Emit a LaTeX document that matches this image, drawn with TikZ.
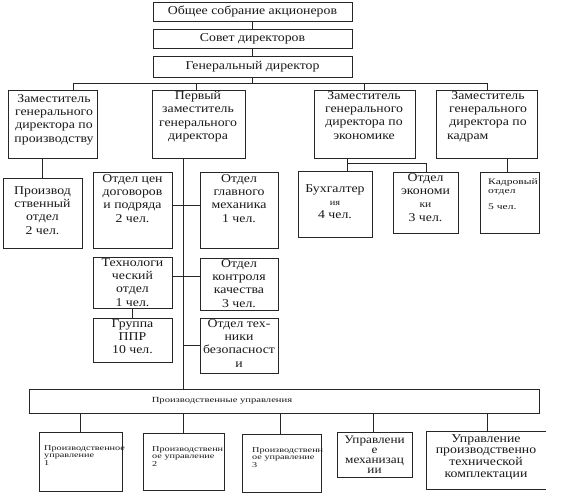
\documentclass[tikz,border=0pt]{standalone}
\usepackage{fontspec}
\setmainfont{Liberation Serif}[FakeStretch=1.15]
\newfontfamily\widefont{Liberation Serif}[FakeStretch=1.36]
\usetikzlibrary{fit}
\tikzset{
  bx/.style={draw=black!85, line width=0.6pt, inner sep=0pt, outer sep=0pt},
  nobx/.style={draw=none, inner sep=0pt, outer sep=0pt},
  ln/.style={draw=black!85, line width=0.6pt},
  tx/.style={inner sep=0pt, align=center, anchor=north, text=black!90, font=\fontsize{12}{13.4}\selectfont},
  sm/.style={inner sep=0pt, align=left, anchor=north west, text=black!90, font=\widefont\fontsize{7.5}{7.8}\selectfont},
}
\begin{document}
\begin{tikzpicture}[x=1pt,y=-1pt]
\useasboundingbox (0,0) rectangle (572,502);
\fill[white] (0,0) rectangle (572,502);

% top chain
\node[bx, fit={(153,2)(352,21)}] (osa) {};
\node[tx, anchor=center] (osat) at (osa.center) {Общее собрание акционеров};
\node[bx, fit={(153,29)(352,48)}] (sd) {};
\node[tx, anchor=center] (sdt) at (sd.center) {Совет директоров};
\node[bx, fit={(153,56)(352,77)}] (gd) {};
\node[tx, anchor=center] (gdt) at (gd.center) {Генеральный директор};

% deputies
\node[bx, fit={(8,90)(97,158)}] (zp) {};
\node[tx] (zpt) at (54,94) {Заместитель\\генерального\\директора по\\производству};
\node[bx, fit={(152,90)(245,158)}] (pz) {};
\node[tx] (pzt) at (198,91) {Первый\\заместитель\\генерального\\директора};
\node[bx, fit={(314,90)(415,158)}] (ze) {};
\node[tx] (zet) at (364,91) {Заместитель\\генерального\\директора по\\экономике};
\node[bx, fit={(436,90)(537,158)}] (zk) {};
\node[tx] (zkt) at (488,91) {Заместитель\\генерального\\директора по\\\makebox[82pt][l]{кадрам}};

% departments
\node[bx, fit={(3,178)(82,248)}] (prd) {};
\node[tx] (prdt) at (42.5,186) {Производ\\ственный\\отдел\\2 чел.};
\node[bx, fit={(93,172)(172,248)}] (oc) {};
\node[tx] (oct) at (132.5,174) {Отдел цен\\договоров\\и подряда\\2 чел.};
\node[bx, fit={(200,172)(278,248)}] (ogm) {};
\node[tx] (ogmt) at (239,174) {Отдел\\главного\\механика\\1 чел.};
\node[bx, fit={(93,257)(172,308)}] (to) {};
\node[tx] (tot) at (132.5,258) {Технологи\\ческий\\отдел\\1 чел.};
\node[bx, fit={(200,258)(278,310)}] (okk) {};
\node[tx] (okkt) at (239,259) {Отдел\\контроля\\качества\\3 чел.};
\node[bx, fit={(93,318)(172,362)}] (ppr) {};
\node[tx] (pprt) at (132.5,319) {Группа\\ППР\\10 чел.};
\node[bx, fit={(200,318)(278,373)}] (otb) {};
\node[tx] (otbt) at (239,319) {Отдел тех-\\ники\\безопасност\\и};

\node[bx, fit={(298,171)(372,237)}] (bu) {};
\node[tx] (but) at (335,184) {Бухгалтер\\{\fontsize{9}{10}\selectfont ия}\\4 чел.};
\node[bx, fit={(393,172)(458,233)}] (oe) {};
\node[tx] (oet) at (425.5,173) {Отдел\\экономи\\{\fontsize{10}{10}\selectfont ки}\\3 чел.};
\node[bx, fit={(480,172)(539,233)}] (ko) {};
\node[sm, font=\widefont\fontsize{8.5}{9.5}\selectfont] (kot) at (488,178) {Кадровый\\отдел\\[6pt]5 чел.};

% production units
\node[bx, fit={(29,389)(539,413)}] (pu) {};
\node[inner sep=0pt, text=black!90, font=\widefont\fontsize{7.8}{9}\selectfont] (put) at (222,401) {Производственные управления};
\node[bx, fit={(39,432)(122,491)}] (pu1) {};
\node[sm] (pu1t) at (44,445) {Производственное\\управление\\1};
\node[bx, fit={(143,433)(224,490)}] (pu2) {};
\node[sm] (pu2t) at (152,446) {Производственн\\ое управление\\2};
\node[bx, fit={(242,434)(321,492)}] (pu3) {};
\node[sm] (pu3t) at (252,447) {Производственн\\ое управление\\3};
\node[bx, fit={(337,432)(412,477)}] (um) {};
\node[tx, font=\fontsize{11.5}{10}\selectfont] (umt) at (374.5,436) {Управлени\\е\\механизац\\ии};
\node[nobx, fit={(426,431)(546,489)}] (ptk) {};
\draw[ln] (ptk.north east) -- (ptk.north west) -- (ptk.south west) -- (ptk.south east);
\node[tx, font=\fontsize{12}{11.7}\selectfont] (ptkt) at (486,434) {Управление\\производственно\\технической\\комплектации};

% connectors
\coordinate (bus) at (0,83);
\coordinate (ml) at (183,0);
\draw[ln] (osa.south) -- (sd.north);
\draw[ln] (sd.south) -- (gd.north);
\draw[ln] (gd.south) -- (gd.south |- bus);
\coordinate (b1) at (73,83);
\coordinate (b2) at (196,83);
\coordinate (b3) at (364,83);
\coordinate (b4) at (487,83);
\draw[ln] (b1) -- (b4);
\draw[ln] (b1) -- (b1 |- zp.north);
\draw[ln] (b2) -- (b2 |- pz.north);
\draw[ln] (b3) -- (b3 |- ze.north);
\draw[ln] (b4) -- (b4 |- zk.north);

\draw[ln] (prd.north |- zp.south) -- (prd.north);
\draw[ln] (pz.south -| ml) -- (pu.north -| ml);
\coordinate (h1) at (0,205);
\coordinate (h2) at (0,276);
\draw[ln] (oc.east |- h1) -- (ogm.west |- h1);
\draw[ln] (to.east |- h2) -- (okk.west |- h2);
\draw[ln] (otb.west -| ml) -- (otb.west);
\draw[ln] (to.south) -- (ppr.north);

\coordinate (e1) at (347,163);
\coordinate (e2) at (426,163);
\draw[ln] (ze.south -| e1) -- (bu.north -| e1);
\draw[ln] (e1) -- (e2) -- (oe.north -| e2);
\coordinate (k1) at (507,0);
\draw[ln] (zk.south -| k1) -- (ko.north -| k1);

\coordinate (p1) at (80,0);
\coordinate (p3) at (280,0);
\coordinate (p4) at (373,0);
\coordinate (p5) at (487,0);
\draw[ln] (pu.south -| p1) -- (pu1.north -| p1);
\draw[ln] (pu.south -| ml) -- (pu2.north -| ml);
\draw[ln] (pu.south -| p3) -- (pu3.north -| p3);
\draw[ln] (pu.south -| p4) -- (um.north -| p4);
\draw[ln] (pu.south -| p5) -- (ptk.north -| p5);
\end{tikzpicture}
\end{document}
